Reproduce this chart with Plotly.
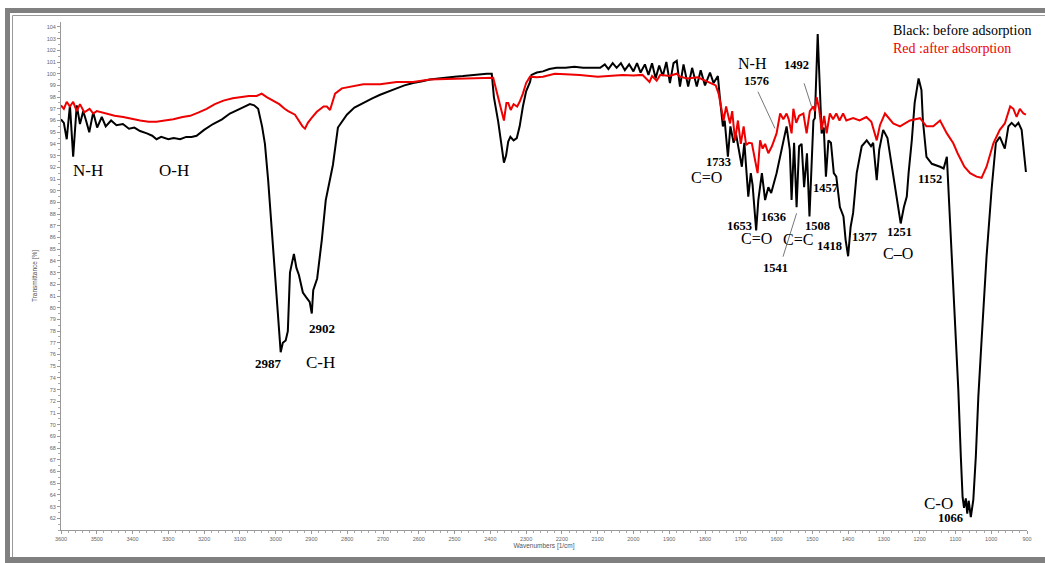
import plotly.graph_objects as go

# ---------------- data ----------------
black_wn = [3600, 3592, 3584, 3575, 3566, 3556, 3547, 3538, 3530, 3521, 3510, 3499, 3486, 3475, 3460,
            3445, 3427, 3410, 3395, 3379, 3360, 3345, 3333, 3320, 3300, 3285, 3267, 3250, 3235, 3221,
            3200, 3175, 3150, 3128, 3100, 3072, 3060, 3049, 3038, 3030, 3021, 3007, 2993, 2988, 2986,
            2980, 2972, 2966, 2960, 2949, 2942, 2935, 2924, 2915, 2905, 2899, 2895, 2884, 2871, 2860,
            2848, 2840, 2826, 2801, 2780, 2756, 2730, 2708, 2685, 2662, 2640, 2616, 2590, 2569, 2545,
            2522, 2500, 2476, 2450, 2429, 2410, 2396, 2390, 2378, 2368, 2362, 2356, 2350, 2344, 2335,
            2326, 2318, 2309, 2300, 2289, 2285, 2270, 2253, 2235, 2215, 2190, 2165, 2141, 2120, 2093,
            2080, 2070, 2058, 2047, 2035, 2024, 2012, 2000, 1990, 1980, 1968, 1958, 1948, 1938, 1928,
            1918, 1908, 1898, 1888, 1879, 1870, 1860, 1847, 1836, 1823, 1812, 1800, 1786, 1776, 1764,
            1758, 1750, 1745, 1736, 1729, 1720, 1713, 1697, 1690, 1679, 1672, 1667, 1657, 1651, 1641,
            1632, 1623, 1615, 1600, 1586, 1572, 1563, 1558, 1551, 1544, 1537, 1530, 1523, 1515, 1508,
            1501, 1497, 1493, 1488, 1485, 1481, 1474, 1468, 1462, 1455, 1448, 1440, 1433, 1423, 1413,
            1407, 1400, 1393, 1386, 1376, 1362, 1348, 1336, 1330, 1320, 1313, 1302, 1290, 1274, 1260,
            1253, 1244, 1236, 1231, 1222, 1214, 1203, 1195, 1191, 1181, 1166, 1143, 1133, 1124, 1120,
            1110, 1101, 1092, 1085, 1080, 1076, 1071, 1067, 1063, 1057, 1050, 1043, 1036, 1027, 1013,
            999, 987, 976, 962, 952, 943, 933, 924, 915, 903]
black_t = [96.1, 95.8, 94.4, 97.3, 92.9, 97.3, 95.7, 96.8, 96.0, 95.0, 96.7, 95.4, 96.3, 95.5, 96.0,
           95.6, 95.7, 95.3, 95.4, 95.1, 94.9, 94.7, 94.4, 94.6, 94.4, 94.5, 94.4, 94.6, 94.6, 94.7,
           95.2, 95.7, 96.1, 96.6, 97.0, 97.4, 97.3, 97.0, 95.5, 94.0, 90.9, 85.2, 79.8, 77.5, 76.2,
           77.0, 77.2, 78.0, 83.0, 84.6, 83.4, 82.8, 81.3, 80.9, 80.5, 79.5, 81.5, 82.5, 85.8, 89.2,
           90.9, 92.2, 95.4, 96.5, 97.1, 97.5, 97.9, 98.2, 98.5, 98.75, 99.0, 99.2, 99.35, 99.5, 99.6,
           99.7, 99.75, 99.8, 99.9, 99.95, 100.0, 100.0, 98.0, 95.9, 93.5, 92.4, 93.0, 94.2, 94.6, 94.3,
           94.5, 95.5, 97.2, 98.5, 99.3, 99.9, 100.1, 100.2, 100.4, 100.5, 100.5, 100.6, 100.5, 100.5, 100.5,
           100.8, 100.4, 100.9, 100.5, 100.9, 100.3, 100.8, 100.2, 100.9, 100.1, 100.8, 99.9, 100.9, 99.6, 100.7,
           99.8, 101.0, 99.2, 100.9, 101.1, 98.9, 100.8, 98.9, 100.5, 98.9, 100.3, 99.0, 100.1, 99.2, 99.8,
           97.8, 95.5, 96.0, 92.9, 95.5, 94.1, 94.8, 92.05, 94.1, 89.5, 91.5, 90.5, 86.6, 89.2, 91.5,
           89.2, 90.3, 89.8, 91.5, 93.5, 95.5, 93.5, 89.2, 94.1, 88.6, 93.8, 94.0, 90.3, 93.2, 87.8,
           92.9, 96.0, 96.2, 100.6, 103.4, 100.3, 94.9, 95.4, 91.2, 94.3, 94.1, 91.5, 91.2, 88.6, 87.8,
           85.8, 84.4, 86.9, 88.1, 91.5, 93.8, 94.3, 93.8, 94.1, 90.9, 93.5, 95.2, 94.5, 91.5, 88.6,
           87.2, 88.6, 89.5, 91.5, 94.3, 97.5, 99.6, 98.6, 96.0, 92.9, 92.3, 92.05, 91.9, 92.9, 90.3,
           84.4, 79.2, 73.0, 67.3, 63.8, 62.9, 63.7, 62.4, 63.5, 62.1, 63.6, 67.3, 72.4, 77.2, 84.4,
           90.1, 94.1, 94.6, 93.6, 95.5, 95.8, 95.5, 95.8, 95.2, 91.6]

red_wn = [3600, 3592, 3584, 3575, 3566, 3556, 3547, 3535, 3520, 3510, 3500, 3472, 3450, 3426, 3400,
          3379, 3355, 3333, 3310, 3286, 3260, 3239, 3215, 3193, 3170, 3146, 3120, 3100, 3075, 3053,
          3039, 3025, 3007, 2990, 2975, 2965, 2946, 2935, 2925, 2918, 2910, 2900, 2885, 2866, 2857,
          2848, 2834, 2815, 2792, 2755, 2708, 2662, 2616, 2569, 2522, 2476, 2429, 2392, 2385, 2373,
          2362, 2355, 2350, 2343, 2335, 2325, 2318, 2309, 2300, 2289, 2270, 2253, 2220, 2190, 2150,
          2100, 2060, 2030, 2000, 1975, 1955, 1948, 1935, 1925, 1900, 1879, 1870, 1850, 1820, 1805,
          1786, 1770, 1762, 1753, 1748, 1741, 1735, 1730, 1724, 1716, 1708, 1700, 1692, 1685, 1677,
          1669, 1660, 1653, 1646, 1639, 1632, 1623, 1613, 1600, 1590, 1581, 1572, 1566, 1558, 1553,
          1545, 1537, 1525, 1516, 1507, 1497, 1493, 1488, 1481, 1474, 1467, 1460, 1451, 1442, 1433,
          1424, 1414, 1405, 1386, 1368, 1349, 1335, 1320, 1311, 1297, 1274, 1255, 1227, 1199, 1181,
          1162, 1143, 1124, 1106, 1094, 1075, 1059, 1041, 1027, 1013, 994, 976, 962, 947, 938,
          929, 920, 910, 903]
red_t = [97.3, 97.0, 97.6, 97.2, 97.6, 96.8, 97.4, 96.7, 97.0, 96.6, 96.8, 96.6, 96.4, 96.3, 96.1,
         96.0, 95.9, 95.9, 96.0, 96.1, 96.3, 96.4, 96.7, 97.0, 97.4, 97.7, 97.9, 98.0, 98.1, 98.1,
         98.3, 98.0, 97.7, 97.4, 97.0, 96.8, 96.5, 96.0, 95.5, 95.3, 95.8, 96.2, 96.75, 97.2, 97.2,
         96.9, 98.3, 98.75, 98.9, 99.1, 99.1, 99.3, 99.3, 99.5, 99.55, 99.6, 99.6, 99.65, 98.8, 97.3,
         96.0, 97.5, 97.5, 96.9, 97.4, 97.2, 97.6, 98.3, 99.2, 99.75, 99.7, 99.75, 100.0, 99.95, 99.9,
         99.75, 99.8, 99.9, 99.85, 99.9, 99.3, 99.8, 99.4, 99.9, 99.8, 100.0, 99.75, 99.6, 99.7, 99.5,
         99.2, 99.0, 98.3, 96.75, 96.0, 97.2, 96.4, 95.75, 96.8, 94.3, 96.0, 94.0, 95.5, 93.9, 94.1,
         94.05, 92.6, 91.5, 94.3, 93.6, 94.0, 93.2, 93.8, 94.9, 96.6, 96.1, 96.6, 96.1, 94.9, 97.0,
         95.8, 96.4, 96.6, 94.9, 96.8, 97.2, 96.8, 98.0, 97.0, 95.2, 96.4, 94.9, 96.6, 96.1, 96.6,
         96.0, 96.6, 96.0, 96.2, 96.0, 96.3, 95.9, 94.3, 95.6, 96.6, 95.75, 95.5, 96.0, 96.2, 95.5,
         95.5, 96.0, 94.9, 94.05, 93.2, 92.05, 91.5, 91.2, 91.1, 92.05, 94.05, 95.2, 95.75, 97.2, 97.0,
         96.3, 97.0, 96.6, 96.5]

y_ticks = list(range(62, 105))
x_ticks = list(range(3600, 899, -100))

# peak labels: (text, wavenumber, transmittance, size, bold)
labels = [
    ("N-H", 3524, 91.7, 17, False), ("O-H", 3284, 91.7, 17, False),
    ("2987", 3021, 75.2, 13, True), ("C-H", 2876, 75.35, 17, False),
    ("2902", 2870, 78.2, 13, True), ("1733", 1762, 92.45, 12.5, True),
    ("C=O", 1797, 91.1, 16, False), ("N-H", 1666, 100.85, 16, False),
    ("1576", 1657, 99.4, 12.5, True), ("1492", 1543, 100.75, 12.5, True),
    ("1457", 1462, 90.2, 12.5, True), ("1636", 1608, 87.75, 12.5, True),
    ("1653", 1703, 87.0, 12.5, True), ("C=O", 1657, 85.9, 16, False),
    ("1508", 1486, 86.95, 12.5, True), ("C=C", 1541, 85.85, 16, False),
    ("1418", 1453, 85.3, 12.5, True), ("1377", 1353, 86.07, 12.5, True),
    ("1541", 1604, 83.37, 12.5, True), ("1251", 1255, 86.5, 12.5, True),
    ("C–O", 1260, 84.65, 16, False), ("1152", 1171, 91.0, 12.5, True),
    ("C-O", 1148, 63.3, 17, False), ("1066", 1115, 62.05, 12.5, True),
]
# leader lines (wn0, t0, wn1, t1)
leaders = [(1652, 98.46, 1604.5, 95.33), (1523, 99.18, 1502, 97.18), (1582, 84.36, 1544, 88.07)]

# ---------------- figure ----------------
W, H = 1045, 563
ML, MR, MT, MB = 61, 18, 22, 33
PW, PH = W - ML - MR, H - MT - MB


def px(x):
    return (x - ML) / PW


def py(y):
    return (H - MB - y) / PH


fig = go.Figure()
fig.add_trace(go.Scatter(x=black_wn, y=black_t, mode="lines",
                         line=dict(color="black", width=2), name="before"))
fig.add_trace(go.Scatter(x=red_wn, y=red_t, mode="lines",
                         line=dict(color="#ee0000", width=2), name="after"))

serif = "Liberation Serif, Times New Roman, serif"
for text, wn, t, size, bold in labels:
    fig.add_annotation(x=wn, y=t, xref="x", yref="y", showarrow=False,
                       text=f"<b>{text}</b>" if bold else text,
                       font=dict(family=serif, size=size, color="black"))
for (x0, y0, x1, y1) in leaders:
    fig.add_shape(type="line", x0=x0, y0=y0, x1=x1, y1=y1, xref="x", yref="y",
                  line=dict(color="#777777", width=1))

fig.add_annotation(x=px(891), y=py(31), xref="paper", yref="paper", showarrow=False,
                   xanchor="left", yanchor="middle", text="Black: before adsorption",
                   font=dict(family=serif, size=14, color="black"))
fig.add_annotation(x=px(891), y=py(48), xref="paper", yref="paper", showarrow=False,
                   xanchor="left", yanchor="middle", text="Red :after adsorption",
                   font=dict(family=serif, size=14, color="#ee0000"))

# frame
g = "#808080"
frame = [
    (5, 8, 10, 563), (5, 8, 1045, 13), (5, 557, 1045, 563),
]
for (a, b, c, d) in frame:
    fig.add_shape(type="rect", xref="paper", yref="paper", x0=px(a), x1=px(c), y0=py(d), y1=py(b),
                  fillcolor=g, line=dict(width=0), layer="below")
fig.add_shape(type="line", xref="paper", yref="paper", x0=px(12.5), x1=px(12.5), y0=py(557), y1=py(15.5),
              line=dict(color="#999999", width=1))
fig.add_shape(type="line", xref="paper", yref="paper", x0=px(12.5), x1=px(1045), y0=py(15.5), y1=py(15.5),
              line=dict(color="#999999", width=1))

tickfont = dict(family="Liberation Sans, Arial, sans-serif", size=5.5, color="#666666")
fig.update_layout(
    width=W, height=H, margin=dict(l=ML, r=MR, t=MT, b=MB),
    paper_bgcolor="white", plot_bgcolor="white", showlegend=False,
    xaxis=dict(range=[3600, 900], tickvals=x_ticks, ticks="outside", ticklen=3, tickcolor="#999999",
               showline=True, linecolor="#999999", linewidth=1, showgrid=False, zeroline=False,
               tickfont=tickfont, minor=dict(dtick=20, ticks="outside", ticklen=2, tickcolor="#aaaaaa"),
               title=dict(text="Wavenumbers [1/cm]", standoff=2,
                          font=dict(family="Liberation Sans, Arial, sans-serif", size=6.5, color="#555555"))),
    yaxis=dict(range=[61, 104.42], tickvals=y_ticks, ticks="outside", ticklen=3, tickcolor="#999999",
               showline=True, linecolor="#999999", linewidth=1, showgrid=False, zeroline=False,
               tickfont=tickfont, minor=dict(dtick=0.5, ticks="outside", ticklen=2, tickcolor="#aaaaaa"),
               title=dict(text="Transmittance [%]", standoff=8,
                          font=dict(family="Liberation Sans, Arial, sans-serif", size=6.5, color="#555555"))),
)

fig.write_html("out.html")
